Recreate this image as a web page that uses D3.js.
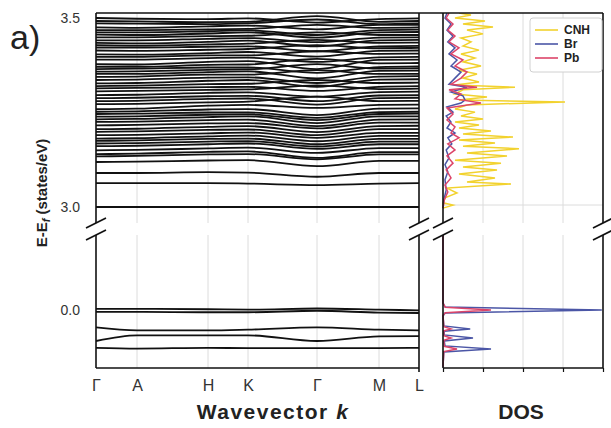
<!DOCTYPE html>
<html>
<head>
<meta charset="utf-8">
<script src="https://cdn.jsdelivr.net/npm/d3@7"></script>
<style>
body { margin: 0; background: white; }
text { font-family: "Liberation Sans", Arial, sans-serif; }
</style>
</head>
<body>
<div id="canvas"></div>
<script>
"use strict"

/* k-path: labels and cumulative distance of the high-symmetry points */
let kLabels = ["Γ", "A", "H", "K", "Γ", "M", "L"];
let kPos = [0, 0.41, 1.12, 1.52, 2.21, 2.83, 3.23];

/* conduction bands (eV) at Γ, A, H, K, Γ, M, L */
let upperBands = [
    [3.500, 3.498, 3.497, 3.499, 3.488, 3.497, 3.499],
    [3.492, 3.491, 3.489, 3.490, 3.505, 3.490, 3.492],
    [3.486, 3.485, 3.484, 3.486, 3.496, 3.484, 3.486],
    [3.475, 3.474, 3.478, 3.480, 3.470, 3.482, 3.482],
    [3.468, 3.468, 3.470, 3.471, 3.482, 3.474, 3.475],
    [3.462, 3.462, 3.465, 3.467, 3.455, 3.468, 3.469],
    [3.456, 3.455, 3.459, 3.462, 3.448, 3.462, 3.463],
    [3.449, 3.449, 3.452, 3.453, 3.462, 3.455, 3.455],
    [3.441, 3.441, 3.445, 3.447, 3.436, 3.448, 3.449],
    [3.434, 3.433, 3.437, 3.440, 3.425, 3.441, 3.442],
    [3.428, 3.427, 3.430, 3.432, 3.442, 3.434, 3.435],
    [3.422, 3.422, 3.424, 3.425, 3.412, 3.425, 3.426],
    [3.414, 3.413, 3.416, 3.418, 3.428, 3.420, 3.421],
    [3.404, 3.403, 3.407, 3.410, 3.398, 3.413, 3.414],
    [3.397, 3.397, 3.401, 3.401, 3.412, 3.405, 3.406],
    [3.390, 3.390, 3.394, 3.395, 3.384, 3.396, 3.397],
    [3.378, 3.377, 3.384, 3.386, 3.365, 3.389, 3.390],
    [3.371, 3.371, 3.376, 3.377, 3.392, 3.380, 3.381],
    [3.365, 3.366, 3.369, 3.369, 3.355, 3.370, 3.372],
    [3.358, 3.359, 3.363, 3.364, 3.378, 3.366, 3.367],
    [3.352, 3.352, 3.357, 3.359, 3.340, 3.360, 3.361],
    [3.344, 3.345, 3.350, 3.350, 3.362, 3.352, 3.352],
    [3.336, 3.337, 3.342, 3.343, 3.328, 3.345, 3.346],
    [3.327, 3.328, 3.334, 3.336, 3.318, 3.337, 3.338],
    [3.320, 3.321, 3.325, 3.326, 3.336, 3.328, 3.329],
    [3.314, 3.315, 3.317, 3.318, 3.307, 3.318, 3.320],
    [3.306, 3.307, 3.310, 3.311, 3.322, 3.312, 3.313],
    [3.296, 3.297, 3.302, 3.303, 3.292, 3.304, 3.305],
    [3.288, 3.289, 3.293, 3.294, 3.280, 3.295, 3.296],
    [3.280, 3.281, 3.286, 3.287, 3.271, 3.288, 3.289],
    [3.272, 3.273, 3.277, 3.279, 3.292, 3.280, 3.281],
    [3.259, 3.260, 3.268, 3.270, 3.262, 3.270, 3.271],
    [3.252, 3.253, 3.258, 3.259, 3.243, 3.260, 3.261],
    [3.246, 3.247, 3.250, 3.250, 3.236, 3.251, 3.252],
    [3.239, 3.240, 3.244, 3.245, 3.230, 3.246, 3.247],
    [3.232, 3.233, 3.238, 3.240, 3.222, 3.240, 3.240],
    [3.225, 3.226, 3.230, 3.231, 3.214, 3.231, 3.232],
    [3.216, 3.217, 3.221, 3.222, 3.208, 3.223, 3.223],
    [3.206, 3.207, 3.212, 3.214, 3.198, 3.214, 3.215],
    [3.199, 3.200, 3.204, 3.205, 3.190, 3.206, 3.206],
    [3.190, 3.191, 3.195, 3.197, 3.183, 3.196, 3.196],
    [3.181, 3.182, 3.187, 3.189, 3.174, 3.188, 3.188],
    [3.175, 3.176, 3.180, 3.181, 3.166, 3.180, 3.180],
    [3.168, 3.169, 3.173, 3.174, 3.160, 3.173, 3.173],
    [3.161, 3.162, 3.166, 3.168, 3.154, 3.166, 3.166],
    [3.150, 3.151, 3.155, 3.157, 3.143, 3.156, 3.156],
    [3.140, 3.141, 3.146, 3.147, 3.130, 3.145, 3.145],
    [3.134, 3.135, 3.139, 3.140, 3.126, 3.139, 3.139],
    [3.119, 3.120, 3.123, 3.124, 3.108, 3.122, 3.122],
    [3.090, 3.090, 3.092, 3.091, 3.080, 3.090, 3.090],
    [3.063, 3.063, 3.063, 3.062, 3.058, 3.062, 3.063],
    [3.000, 3.000, 3.000, 3.000, 3.000, 3.000, 3.000]
];

/* valence bands (eV) at Γ, A, H, K, Γ, M, L */
let lowerBands = [
    [0.003, 0.003, 0.002, 0.001, 0.004, 0.001, -0.001],
    [-0.005, -0.005, -0.006, -0.006, -0.002, -0.007, -0.008],
    [-0.046, -0.054, -0.054, -0.052, -0.046, -0.052, -0.054],
    [-0.082, -0.067, -0.067, -0.067, -0.082, -0.070, -0.069],
    [-0.100, -0.102, -0.100, -0.101, -0.101, -0.101, -0.100]
];

/* DOS: [energy (eV), states/eV] */
let dosTicks = [0, 1, 2, 3, 4];
let dosSeries = ["CNH", "Br", "Pb"];
let dosColors = ["#f2d22e", "#4b56a6", "#dc4569"];

let cnhUp = [
    [2.997, 0.0], [3.005, 0.25], [3.011, 0.0], [3.024, 0.05], [3.037, 0.35], [3.050, 0.1],
    [3.061, 1.7], [3.066, 0.6], [3.077, 1.3], [3.087, 0.4], [3.098, 1.35], [3.106, 0.5],
    [3.116, 1.45], [3.124, 0.3], [3.135, 1.6], [3.143, 0.6], [3.154, 1.9], [3.161, 0.5],
    [3.169, 1.3], [3.177, 0.4], [3.185, 1.75], [3.193, 0.5], [3.201, 1.2], [3.209, 0.4],
    [3.217, 0.9], [3.225, 0.3], [3.233, 1.0], [3.241, 0.45], [3.251, 0.8], [3.259, 0.3],
    [3.270, 0.6], [3.278, 3.05], [3.283, 0.4], [3.291, 1.1], [3.299, 0.3], [3.310, 0.5],
    [3.317, 1.8], [3.323, 0.3], [3.331, 0.9], [3.341, 0.5], [3.352, 0.85], [3.362, 0.4],
    [3.373, 0.95], [3.384, 0.5], [3.394, 0.8], [3.405, 0.45], [3.415, 0.9], [3.426, 0.5],
    [3.437, 0.7], [3.447, 0.45], [3.458, 1.0], [3.468, 0.6], [3.476, 1.25], [3.484, 0.5],
    [3.492, 1.05], [3.500, 0.3], [3.508, 0.7], [3.513, 0.4]
];
let brUp = [
    [2.997, 0.0], [3.018, 0.02], [3.045, 0.08], [3.072, 0.05], [3.093, 0.12], [3.112, 0.05],
    [3.130, 0.15], [3.151, 0.08], [3.167, 0.22], [3.183, 0.12], [3.196, 0.3], [3.209, 0.1],
    [3.225, 0.2], [3.241, 0.08], [3.251, 0.25], [3.265, 0.1], [3.275, 0.45], [3.283, 0.55],
    [3.294, 0.5], [3.304, 0.2], [3.317, 0.6], [3.325, 0.15], [3.341, 0.3], [3.357, 0.45],
    [3.373, 0.2], [3.389, 0.35], [3.405, 0.15], [3.421, 0.3], [3.437, 0.12], [3.452, 0.25],
    [3.468, 0.1], [3.484, 0.2], [3.500, 0.05], [3.513, 0.1]
];
let pbUp = [
    [2.997, 0.0], [3.018, 0.03], [3.040, 0.12], [3.058, 0.05], [3.077, 0.2], [3.098, 0.08],
    [3.116, 0.25], [3.135, 0.1], [3.151, 0.3], [3.167, 0.12], [3.183, 0.4], [3.196, 0.2],
    [3.212, 0.3], [3.230, 0.1], [3.246, 0.25], [3.262, 0.1], [3.275, 0.95], [3.286, 0.3],
    [3.299, 0.45], [3.310, 0.15], [3.317, 0.85], [3.325, 0.2], [3.341, 0.45], [3.357, 0.6],
    [3.373, 0.3], [3.389, 0.5], [3.405, 0.2], [3.421, 0.4], [3.437, 0.15], [3.452, 0.3],
    [3.468, 0.12], [3.484, 0.25], [3.500, 0.08], [3.513, 0.15]
];
let brLow = [
    [-0.150, 0.0], [-0.111, 0.02], [-0.103, 1.2], [-0.095, 0.05], [-0.082, 0.03],
    [-0.074, 0.75], [-0.066, 0.03], [-0.056, 0.03], [-0.050, 0.68], [-0.042, 0.02],
    [-0.016, 0.0], [-0.008, 0.05], [0.000, 3.97], [0.008, 0.05], [0.019, 0.0], [0.200, 0.0]
];
let pbLow = [
    [-0.150, 0.0], [-0.110, 0.02], [-0.103, 0.35], [-0.096, 0.03], [-0.080, 0.02],
    [-0.074, 0.2], [-0.068, 0.02], [-0.055, 0.02], [-0.050, 0.2], [-0.044, 0.02],
    [-0.014, 0.0], [-0.007, 0.06], [0.000, 1.2], [0.007, 0.06], [0.018, 0.0], [0.200, 0.0]
];

let drawingWidth = 611;
let drawingHeight = 428;

let bandLeft = 96, bandRight = 419, dosLeft = 443, dosRight = 603;
let frameTop = 13, frameBottom = 368, breakTop = 223, breakBottom = 235;

let drawing = d3.select("#canvas")
    .append("svg")
    .attr("width", drawingWidth)
    .attr("height", drawingHeight);

drawing.append("rect")
    .attr("width", drawingWidth)
    .attr("height", drawingHeight)
    .attr("fill", "white");

let kScale = d3.scaleLinear().domain([0, kPos[kPos.length - 1]]).range([bandLeft, bandRight]);
let yUp = d3.scaleLinear().domain([3.0, 3.5]).range([207, 18]);
let yLow = d3.scaleLinear().domain([-0.15, 0.0]).range([366.7, 310]);
let dosX = d3.scaleLinear().domain([0, 4]).range([dosLeft, dosRight]);

/* clip regions for the two halves of the broken axis */
let defs = drawing.append("defs");
defs.append("clipPath").attr("id", "clipUp").append("rect")
    .attr("x", bandLeft).attr("y", frameTop)
    .attr("width", dosRight - bandLeft).attr("height", breakTop - frameTop);
defs.append("clipPath").attr("id", "clipLow").append("rect")
    .attr("x", bandLeft).attr("y", breakBottom)
    .attr("width", dosRight - bandLeft).attr("height", frameBottom - breakBottom);

/* light grid lines */
let grid = drawing.append("g").attr("stroke", "#dcdcdc").attr("stroke-width", 1);
let gridXs = kPos.slice(1, -1).map(k => kScale(k)).concat([1, 2, 3].map(v => dosX(v)));
gridXs.forEach(function (x) {
    grid.append("line").attr("x1", x).attr("x2", x).attr("y1", frameTop).attr("y2", breakTop);
    grid.append("line").attr("x1", x).attr("x2", x).attr("y1", breakBottom).attr("y2", frameBottom);
});
grid.append("line")
    .attr("x1", dosLeft).attr("x2", dosRight)
    .attr("y1", yUp(3.0) - 2).attr("y2", yUp(3.0) - 2);

/* band structure */
let bandLineUp = d3.line()
    .x((d, i) => kScale(kPos[i]))
    .y(d => yUp(d))
    .curve(d3.curveMonotoneX);
let bandLineLow = d3.line()
    .x((d, i) => kScale(kPos[i]))
    .y(d => yLow(d))
    .curve(d3.curveMonotoneX);

drawing.append("g").attr("clip-path", "url(#clipUp)")
    .selectAll("path").data(upperBands).join("path")
    .attr("d", bandLineUp)
    .attr("fill", "none")
    .attr("stroke", "#111")
    .attr("stroke-width", 1.8);

drawing.append("g").attr("clip-path", "url(#clipLow)")
    .selectAll("path").data(lowerBands).join("path")
    .attr("d", bandLineLow)
    .attr("fill", "none")
    .attr("stroke", "#111")
    .attr("stroke-width", 1.8);

/* density of states */
let dosLineUp = d3.line().x(d => dosX(d[1])).y(d => yUp(d[0]));
let dosLineLow = d3.line().x(d => dosX(d[1])).y(d => yLow(d[0]));

let upG = drawing.append("g").attr("clip-path", "url(#clipUp)").attr("fill", "none").attr("stroke-width", 1.5);
upG.append("path").attr("d", dosLineUp(cnhUp)).attr("stroke", dosColors[0]);
upG.append("path").attr("d", dosLineUp(brUp)).attr("stroke", dosColors[1]);
upG.append("path").attr("d", dosLineUp(pbUp)).attr("stroke", dosColors[2]);

let lowG = drawing.append("g").attr("clip-path", "url(#clipLow)").attr("fill", "none").attr("stroke-width", 1.5);
lowG.append("path").attr("d", dosLineLow(brLow)).attr("stroke", dosColors[1]);
lowG.append("path").attr("d", dosLineLow(pbLow)).attr("stroke", dosColors[2]);

/* frame with axis breaks */
let frame = drawing.append("g").attr("stroke", "#111").attr("stroke-width", 1.6);
[bandLeft, bandRight, dosLeft, dosRight].forEach(function (x) {
    frame.append("line").attr("x1", x).attr("x2", x).attr("y1", frameTop).attr("y2", breakTop);
    frame.append("line").attr("x1", x).attr("x2", x).attr("y1", breakBottom).attr("y2", frameBottom);
    frame.append("line").attr("x1", x - 10).attr("x2", x + 10).attr("y1", breakTop + 5).attr("y2", breakTop - 5);
    frame.append("line").attr("x1", x - 10).attr("x2", x + 10).attr("y1", breakBottom + 5).attr("y2", breakBottom - 5);
});
frame.append("line").attr("x1", bandLeft).attr("x2", dosRight).attr("y1", frameTop).attr("y2", frameTop);
frame.append("line").attr("x1", bandLeft).attr("x2", bandRight).attr("y1", frameBottom).attr("y2", frameBottom);
frame.append("line").attr("x1", dosLeft).attr("x2", dosRight).attr("y1", frameBottom).attr("y2", frameBottom);
frame.append("line").attr("x1", bandRight).attr("x2", bandRight).attr("y1", frameBottom).attr("y2", frameBottom + 4);

/* axes */
let kAxis = drawing.append("g")
    .attr("transform", "translate(0," + frameBottom + ")")
    .call(d3.axisBottom(kScale).tickValues(kPos).tickFormat((d, i) => kLabels[i]).tickSize(0).tickPadding(12));
kAxis.select(".domain").remove();
kAxis.selectAll("text").attr("font-size", 16).attr("fill", "#333");

let dosAxis = drawing.append("g")
    .attr("transform", "translate(0," + frameBottom + ")")
    .call(d3.axisBottom(dosX).tickValues(dosTicks).tickFormat("").tickSize(4));
dosAxis.select(".domain").remove();
dosAxis.selectAll("line").attr("stroke", "#111").attr("stroke-width", 1.2);

let yAxisUp = drawing.append("g")
    .attr("transform", "translate(" + bandLeft + ",0)")
    .call(d3.axisLeft(yUp).tickValues([3.0, 3.5]).tickFormat(d3.format(".1f")).tickSize(0).tickPadding(16));
let yAxisLow = drawing.append("g")
    .attr("transform", "translate(" + bandLeft + ",0)")
    .call(d3.axisLeft(yLow).tickValues([0.0]).tickFormat(d3.format(".1f")).tickSize(0).tickPadding(16));
[yAxisUp, yAxisLow].forEach(function (g) {
    g.select(".domain").remove();
    g.selectAll("text").attr("font-size", 14).attr("fill", "#333");
});

/* legend */
let legend = drawing.append("g");
legend.append("rect")
    .attr("x", 530).attr("y", 18).attr("width", 72).attr("height", 54)
    .attr("rx", 3).attr("fill", "white").attr("stroke", "#d0d0d0");
dosSeries.forEach(function (name, i) {
    let ly = 30 + i * 14;
    legend.append("line")
        .attr("x1", 535).attr("x2", 558).attr("y1", ly).attr("y2", ly)
        .attr("stroke", dosColors[i]).attr("stroke-width", 1.6);
    legend.append("text")
        .attr("x", 564).attr("y", ly + 4)
        .attr("font-size", 12).attr("font-weight", "bold").attr("fill", "#222")
        .text(name);
});

/* titles */
drawing.append("text")
    .attr("x", 10).attr("y", 49)
    .attr("font-size", 34).attr("fill", "#222")
    .text("a)");

let yTitle = drawing.append("text")
    .attr("transform", "translate(47,193) rotate(-90)")
    .attr("text-anchor", "middle")
    .attr("font-size", 15).attr("font-weight", "bold").attr("fill", "#222");
yTitle.append("tspan").text("E-E");
yTitle.append("tspan").attr("font-style", "italic").attr("font-size", 11).attr("dy", 3).text("f");
yTitle.append("tspan").attr("dy", -3).text(" (states/eV)");

let xTitle = drawing.append("text")
    .attr("x", 273).attr("y", 419)
    .attr("text-anchor", "middle")
    .attr("font-size", 21).attr("font-weight", "bold").attr("fill", "#222")
    .attr("letter-spacing", 1.5);
xTitle.append("tspan").text("Wavevector ");
xTitle.append("tspan").attr("font-style", "italic").text("k");

drawing.append("text")
    .attr("x", 521).attr("y", 419)
    .attr("text-anchor", "middle")
    .attr("font-size", 21).attr("font-weight", "bold").attr("fill", "#222")
    .text("DOS");
</script>
</body>
</html>
